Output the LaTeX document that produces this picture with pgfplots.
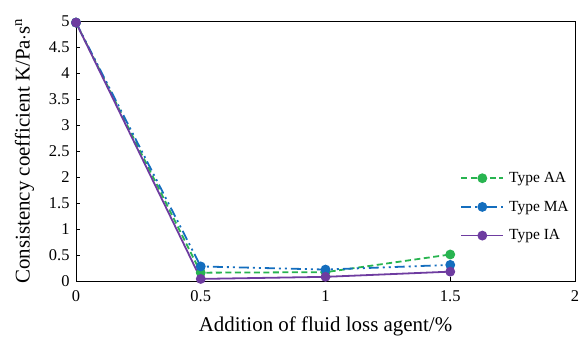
\documentclass[border=0pt]{standalone}
\usepackage{pgfplots}
\pgfplotsset{compat=1.18}
\usepackage{fontspec}
\setmainfont{Liberation Serif}
\definecolor{cAA}{RGB}{40,180,80}
\definecolor{cMA}{RGB}{20,110,190}
\definecolor{cIA}{RGB}{110,60,160}
\begin{document}
\begin{tikzpicture}[x=1bp,y=1bp]
\path[use as bounding box] (0,0) rectangle (582,337);
\begin{axis}[
  at={(76bp,56bp)}, anchor=south west,
  scale only axis, width=499bp, height=260bp,
  xmin=0, xmax=2, ymin=0, ymax=5,
  xtick={0,0.5,1,1.5,2}, ytick={0,0.5,...,5},
  yticklabels={0,0.5,1,1.5,2,2.5,3,3.5,4,4.5,5},
  xticklabels={0,0.5,1,1.5,2},
  xtick pos=bottom, ytick pos=left,
  /pgf/number format/assume math mode=true,
  tick align=inside, major tick length=4bp,
  tick style={black, line width=0.8pt},
  axis line style={black, line width=1pt},
  ticklabel style={font=\fontsize{16.5}{18}\selectfont},
  xticklabel style={yshift=-6bp},
  yticklabel style={xshift=-3bp},
  xlabel={Addition of fluid loss agent/\%},
  ylabel={Consistency coefficient K/Pa$\cdot$s$^{\mathrm{n}}$},
  label style={font=\fontsize{21}{23}\selectfont},
  xlabel style={yshift=-8bp},
  ylabel style={yshift=8bp},
  clip=false,
  legend image code/.code={\draw[mark repeat=2,mark phase=2] plot coordinates {(0bp,0bp)(21bp,0bp)(42bp,0bp)};},
  legend style={at={(0.768,0.43)}, anchor=north west, draw=none, fill=none,
    font=\fontsize{15.5}{17}\selectfont, row sep=13bp, inner sep=1bp,
    nodes={inner xsep=5bp}},
  legend cell align=left,
]
\addplot[cAA, line width=1.8pt, dash pattern=on 6bp off 3.5bp, mark=*, mark size=4pt, mark options={solid}]
 coordinates {(0,4.97) (0.5,0.16) (1,0.17) (1.5,0.51)};
\addlegendentry{Type AA}
\addplot[cMA, line width=1.8pt, dash pattern=on 10bp off 4bp on 2bp off 4bp on 2bp off 4bp, mark=*, mark size=4pt, mark options={solid}]
 coordinates {(0,4.97) (0.5,0.28) (1,0.22) (1.5,0.31)};
\addlegendentry{Type MA}
\addplot[cIA, line width=1.8pt, mark=*, mark size=4pt]
 coordinates {(0,4.97) (0.5,0.04) (1,0.08) (1.5,0.18)};
\addlegendentry{Type IA}
\end{axis}
\end{tikzpicture}
\end{document}
